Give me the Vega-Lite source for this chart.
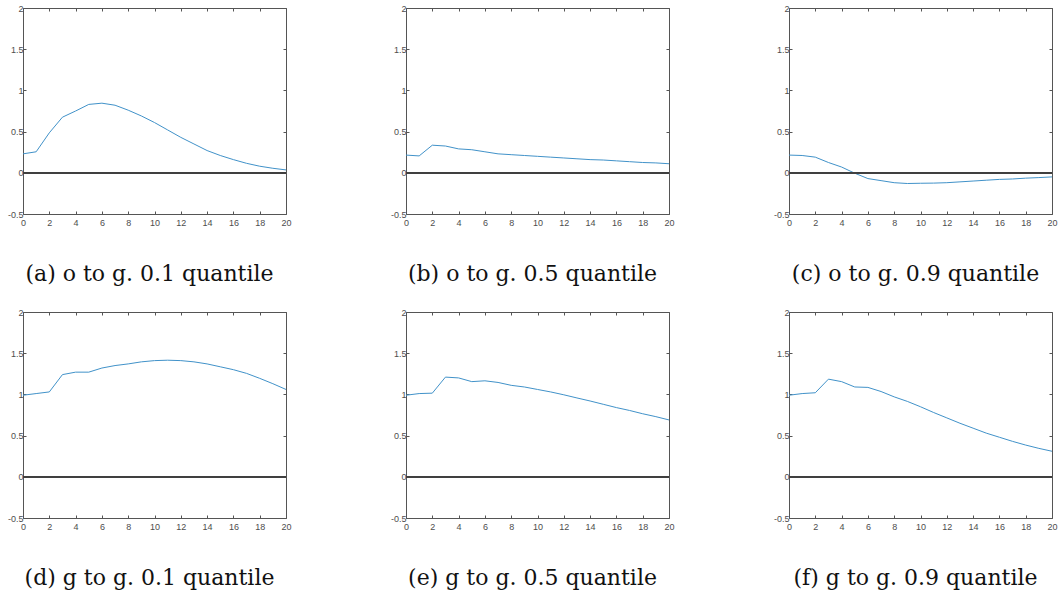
{
  "$schema": "https://vega.github.io/schema/vega-lite/v6.json",
  "background": "white",
  "autosize": {"type": "pad"},
  "padding": {"left": 7, "top": 4, "right": 5, "bottom": 5},
  "bounds": "flush",
  "spacing": {"row": 98, "column": 120},
  "columns": 3,
  "datasets": {
    "irf": [
      {"panel": "a", "t": 0, "v": 0.23}, {"panel": "a", "t": 1, "v": 0.255}, {"panel": "a", "t": 2, "v": 0.485}, {"panel": "a", "t": 3, "v": 0.675}, {"panel": "a", "t": 4, "v": 0.75}, {"panel": "a", "t": 5, "v": 0.83}, {"panel": "a", "t": 6, "v": 0.845}, {"panel": "a", "t": 7, "v": 0.82}, {"panel": "a", "t": 8, "v": 0.76}, {"panel": "a", "t": 9, "v": 0.69}, {"panel": "a", "t": 10, "v": 0.61}, {"panel": "a", "t": 11, "v": 0.52}, {"panel": "a", "t": 12, "v": 0.43}, {"panel": "a", "t": 13, "v": 0.35}, {"panel": "a", "t": 14, "v": 0.27}, {"panel": "a", "t": 15, "v": 0.21}, {"panel": "a", "t": 16, "v": 0.16}, {"panel": "a", "t": 17, "v": 0.115}, {"panel": "a", "t": 18, "v": 0.08}, {"panel": "a", "t": 19, "v": 0.055}, {"panel": "a", "t": 20, "v": 0.035},
      {"panel": "b", "t": 0, "v": 0.215}, {"panel": "b", "t": 1, "v": 0.205}, {"panel": "b", "t": 2, "v": 0.335}, {"panel": "b", "t": 3, "v": 0.325}, {"panel": "b", "t": 4, "v": 0.29}, {"panel": "b", "t": 5, "v": 0.28}, {"panel": "b", "t": 6, "v": 0.255}, {"panel": "b", "t": 7, "v": 0.23}, {"panel": "b", "t": 8, "v": 0.22}, {"panel": "b", "t": 9, "v": 0.21}, {"panel": "b", "t": 10, "v": 0.2}, {"panel": "b", "t": 11, "v": 0.19}, {"panel": "b", "t": 12, "v": 0.18}, {"panel": "b", "t": 13, "v": 0.17}, {"panel": "b", "t": 14, "v": 0.16}, {"panel": "b", "t": 15, "v": 0.155}, {"panel": "b", "t": 16, "v": 0.145}, {"panel": "b", "t": 17, "v": 0.135}, {"panel": "b", "t": 18, "v": 0.125}, {"panel": "b", "t": 19, "v": 0.12}, {"panel": "b", "t": 20, "v": 0.11},
      {"panel": "c", "t": 0, "v": 0.215}, {"panel": "c", "t": 1, "v": 0.21}, {"panel": "c", "t": 2, "v": 0.19}, {"panel": "c", "t": 3, "v": 0.125}, {"panel": "c", "t": 4, "v": 0.07}, {"panel": "c", "t": 5, "v": -0.005}, {"panel": "c", "t": 6, "v": -0.07}, {"panel": "c", "t": 7, "v": -0.095}, {"panel": "c", "t": 8, "v": -0.12}, {"panel": "c", "t": 9, "v": -0.13}, {"panel": "c", "t": 10, "v": -0.127}, {"panel": "c", "t": 11, "v": -0.125}, {"panel": "c", "t": 12, "v": -0.12}, {"panel": "c", "t": 13, "v": -0.11}, {"panel": "c", "t": 14, "v": -0.1}, {"panel": "c", "t": 15, "v": -0.09}, {"panel": "c", "t": 16, "v": -0.08}, {"panel": "c", "t": 17, "v": -0.075}, {"panel": "c", "t": 18, "v": -0.065}, {"panel": "c", "t": 19, "v": -0.058}, {"panel": "c", "t": 20, "v": -0.05},
      {"panel": "d", "t": 0, "v": 0.99}, {"panel": "d", "t": 1, "v": 1.01}, {"panel": "d", "t": 2, "v": 1.03}, {"panel": "d", "t": 3, "v": 1.24}, {"panel": "d", "t": 4, "v": 1.27}, {"panel": "d", "t": 5, "v": 1.27}, {"panel": "d", "t": 6, "v": 1.32}, {"panel": "d", "t": 7, "v": 1.35}, {"panel": "d", "t": 8, "v": 1.37}, {"panel": "d", "t": 9, "v": 1.395}, {"panel": "d", "t": 10, "v": 1.41}, {"panel": "d", "t": 11, "v": 1.415}, {"panel": "d", "t": 12, "v": 1.41}, {"panel": "d", "t": 13, "v": 1.395}, {"panel": "d", "t": 14, "v": 1.37}, {"panel": "d", "t": 15, "v": 1.335}, {"panel": "d", "t": 16, "v": 1.3}, {"panel": "d", "t": 17, "v": 1.255}, {"panel": "d", "t": 18, "v": 1.195}, {"panel": "d", "t": 19, "v": 1.13}, {"panel": "d", "t": 20, "v": 1.06},
      {"panel": "e", "t": 0, "v": 0.99}, {"panel": "e", "t": 1, "v": 1.01}, {"panel": "e", "t": 2, "v": 1.015}, {"panel": "e", "t": 3, "v": 1.21}, {"panel": "e", "t": 4, "v": 1.2}, {"panel": "e", "t": 5, "v": 1.155}, {"panel": "e", "t": 6, "v": 1.165}, {"panel": "e", "t": 7, "v": 1.145}, {"panel": "e", "t": 8, "v": 1.11}, {"panel": "e", "t": 9, "v": 1.09}, {"panel": "e", "t": 10, "v": 1.06}, {"panel": "e", "t": 11, "v": 1.03}, {"panel": "e", "t": 12, "v": 0.995}, {"panel": "e", "t": 13, "v": 0.957}, {"panel": "e", "t": 14, "v": 0.92}, {"panel": "e", "t": 15, "v": 0.88}, {"panel": "e", "t": 16, "v": 0.84}, {"panel": "e", "t": 17, "v": 0.805}, {"panel": "e", "t": 18, "v": 0.765}, {"panel": "e", "t": 19, "v": 0.73}, {"panel": "e", "t": 20, "v": 0.69},
      {"panel": "f", "t": 0, "v": 0.99}, {"panel": "f", "t": 1, "v": 1.01}, {"panel": "f", "t": 2, "v": 1.02}, {"panel": "f", "t": 3, "v": 1.185}, {"panel": "f", "t": 4, "v": 1.155}, {"panel": "f", "t": 5, "v": 1.09}, {"panel": "f", "t": 6, "v": 1.085}, {"panel": "f", "t": 7, "v": 1.035}, {"panel": "f", "t": 8, "v": 0.97}, {"panel": "f", "t": 9, "v": 0.915}, {"panel": "f", "t": 10, "v": 0.85}, {"panel": "f", "t": 11, "v": 0.78}, {"panel": "f", "t": 12, "v": 0.715}, {"panel": "f", "t": 13, "v": 0.65}, {"panel": "f", "t": 14, "v": 0.59}, {"panel": "f", "t": 15, "v": 0.53}, {"panel": "f", "t": 16, "v": 0.48}, {"panel": "f", "t": 17, "v": 0.43}, {"panel": "f", "t": 18, "v": 0.385}, {"panel": "f", "t": 19, "v": 0.345}, {"panel": "f", "t": 20, "v": 0.31}
    ]
  },
  "concat": [
    {"title": {"text": "(a) o to g. 0.1 quantile"}, "data": {"name": "irf"}, "transform": [{"filter": "datum.panel == 'a'"}], "width": 263, "height": 206,
     "layer": [
       {"mark": {"type": "line", "color": "#4192c9", "strokeWidth": 1}, "encoding": {"x": {"field": "t", "type": "quantitative", "scale": {"domain": [0, 20], "nice": false}, "axis": {"orient": "bottom", "values": [0,2,4,6,8,10,12,14,16,18,20]}}, "y": {"field": "v", "type": "quantitative", "scale": {"domain": [-0.5, 2], "nice": false, "zero": false}, "axis": {"orient": "left", "values": [-0.5,0,0.5,1,1.5,2]}}}},
       {"mark": {"type": "line", "strokeOpacity": 0}, "encoding": {"x": {"field": "t", "type": "quantitative", "axis": {"orient": "top", "labels": false, "values": [0,2,4,6,8,10,12,14,16,18,20]}}, "y": {"field": "v", "type": "quantitative", "axis": {"orient": "right", "labels": false, "values": [-0.5,0,0.5,1,1.5,2]}}}},
       {"mark": {"type": "rule", "color": "#404040", "strokeWidth": 0.9}, "encoding": {"y": {"datum": 0, "type": "quantitative", "axis": null}}}
     ],
     "resolve": {"axis": {"x": "independent", "y": "independent"}}},
    {"title": {"text": "(b) o to g. 0.5 quantile"}, "data": {"name": "irf"}, "transform": [{"filter": "datum.panel == 'b'"}], "width": 263, "height": 206,
     "layer": [
       {"mark": {"type": "line", "color": "#4192c9", "strokeWidth": 1}, "encoding": {"x": {"field": "t", "type": "quantitative", "scale": {"domain": [0, 20], "nice": false}, "axis": {"orient": "bottom", "values": [0,2,4,6,8,10,12,14,16,18,20]}}, "y": {"field": "v", "type": "quantitative", "scale": {"domain": [-0.5, 2], "nice": false, "zero": false}, "axis": {"orient": "left", "values": [-0.5,0,0.5,1,1.5,2]}}}},
       {"mark": {"type": "line", "strokeOpacity": 0}, "encoding": {"x": {"field": "t", "type": "quantitative", "axis": {"orient": "top", "labels": false, "values": [0,2,4,6,8,10,12,14,16,18,20]}}, "y": {"field": "v", "type": "quantitative", "axis": {"orient": "right", "labels": false, "values": [-0.5,0,0.5,1,1.5,2]}}}},
       {"mark": {"type": "rule", "color": "#404040", "strokeWidth": 0.9}, "encoding": {"y": {"datum": 0, "type": "quantitative", "axis": null}}}
     ],
     "resolve": {"axis": {"x": "independent", "y": "independent"}}},
    {"title": {"text": "(c) o to g. 0.9 quantile"}, "data": {"name": "irf"}, "transform": [{"filter": "datum.panel == 'c'"}], "width": 263, "height": 206,
     "layer": [
       {"mark": {"type": "line", "color": "#4192c9", "strokeWidth": 1}, "encoding": {"x": {"field": "t", "type": "quantitative", "scale": {"domain": [0, 20], "nice": false}, "axis": {"orient": "bottom", "values": [0,2,4,6,8,10,12,14,16,18,20]}}, "y": {"field": "v", "type": "quantitative", "scale": {"domain": [-0.5, 2], "nice": false, "zero": false}, "axis": {"orient": "left", "values": [-0.5,0,0.5,1,1.5,2]}}}},
       {"mark": {"type": "line", "strokeOpacity": 0}, "encoding": {"x": {"field": "t", "type": "quantitative", "axis": {"orient": "top", "labels": false, "values": [0,2,4,6,8,10,12,14,16,18,20]}}, "y": {"field": "v", "type": "quantitative", "axis": {"orient": "right", "labels": false, "values": [-0.5,0,0.5,1,1.5,2]}}}},
       {"mark": {"type": "rule", "color": "#404040", "strokeWidth": 0.9}, "encoding": {"y": {"datum": 0, "type": "quantitative", "axis": null}}}
     ],
     "resolve": {"axis": {"x": "independent", "y": "independent"}}},
    {"title": {"text": "(d) g to g. 0.1 quantile"}, "data": {"name": "irf"}, "transform": [{"filter": "datum.panel == 'd'"}], "width": 263, "height": 206,
     "layer": [
       {"mark": {"type": "line", "color": "#4192c9", "strokeWidth": 1}, "encoding": {"x": {"field": "t", "type": "quantitative", "scale": {"domain": [0, 20], "nice": false}, "axis": {"orient": "bottom", "values": [0,2,4,6,8,10,12,14,16,18,20]}}, "y": {"field": "v", "type": "quantitative", "scale": {"domain": [-0.5, 2], "nice": false, "zero": false}, "axis": {"orient": "left", "values": [-0.5,0,0.5,1,1.5,2]}}}},
       {"mark": {"type": "line", "strokeOpacity": 0}, "encoding": {"x": {"field": "t", "type": "quantitative", "axis": {"orient": "top", "labels": false, "values": [0,2,4,6,8,10,12,14,16,18,20]}}, "y": {"field": "v", "type": "quantitative", "axis": {"orient": "right", "labels": false, "values": [-0.5,0,0.5,1,1.5,2]}}}},
       {"mark": {"type": "rule", "color": "#404040", "strokeWidth": 0.9}, "encoding": {"y": {"datum": 0, "type": "quantitative", "axis": null}}}
     ],
     "resolve": {"axis": {"x": "independent", "y": "independent"}}},
    {"title": {"text": "(e) g to g. 0.5 quantile"}, "data": {"name": "irf"}, "transform": [{"filter": "datum.panel == 'e'"}], "width": 263, "height": 206,
     "layer": [
       {"mark": {"type": "line", "color": "#4192c9", "strokeWidth": 1}, "encoding": {"x": {"field": "t", "type": "quantitative", "scale": {"domain": [0, 20], "nice": false}, "axis": {"orient": "bottom", "values": [0,2,4,6,8,10,12,14,16,18,20]}}, "y": {"field": "v", "type": "quantitative", "scale": {"domain": [-0.5, 2], "nice": false, "zero": false}, "axis": {"orient": "left", "values": [-0.5,0,0.5,1,1.5,2]}}}},
       {"mark": {"type": "line", "strokeOpacity": 0}, "encoding": {"x": {"field": "t", "type": "quantitative", "axis": {"orient": "top", "labels": false, "values": [0,2,4,6,8,10,12,14,16,18,20]}}, "y": {"field": "v", "type": "quantitative", "axis": {"orient": "right", "labels": false, "values": [-0.5,0,0.5,1,1.5,2]}}}},
       {"mark": {"type": "rule", "color": "#404040", "strokeWidth": 0.9}, "encoding": {"y": {"datum": 0, "type": "quantitative", "axis": null}}}
     ],
     "resolve": {"axis": {"x": "independent", "y": "independent"}}},
    {"title": {"text": "(f) g to g. 0.9 quantile"}, "data": {"name": "irf"}, "transform": [{"filter": "datum.panel == 'f'"}], "width": 263, "height": 206,
     "layer": [
       {"mark": {"type": "line", "color": "#4192c9", "strokeWidth": 1}, "encoding": {"x": {"field": "t", "type": "quantitative", "scale": {"domain": [0, 20], "nice": false}, "axis": {"orient": "bottom", "values": [0,2,4,6,8,10,12,14,16,18,20]}}, "y": {"field": "v", "type": "quantitative", "scale": {"domain": [-0.5, 2], "nice": false, "zero": false}, "axis": {"orient": "left", "values": [-0.5,0,0.5,1,1.5,2]}}}},
       {"mark": {"type": "line", "strokeOpacity": 0}, "encoding": {"x": {"field": "t", "type": "quantitative", "axis": {"orient": "top", "labels": false, "values": [0,2,4,6,8,10,12,14,16,18,20]}}, "y": {"field": "v", "type": "quantitative", "axis": {"orient": "right", "labels": false, "values": [-0.5,0,0.5,1,1.5,2]}}}},
       {"mark": {"type": "rule", "color": "#404040", "strokeWidth": 0.9}, "encoding": {"y": {"datum": 0, "type": "quantitative", "axis": null}}}
     ],
     "resolve": {"axis": {"x": "independent", "y": "independent"}}}
  ],
  "config": {
    "view": {"stroke": null},
    "title": {"orient": "bottom", "font": "DejaVu Serif", "fontSize": 22, "fontWeight": "normal", "color": "#111111", "frame": "group", "anchor": "middle", "dx": -5, "offset": 37},
    "axis": {"title": null, "grid": false, "domainColor": "#555555", "domainWidth": 1, "tickColor": "#555555", "tickSize": -3, "labelColor": "#4d4d4d", "labelFont": "Liberation Sans", "labelFontSize": 9, "labelFlush": false, "labelOverlap": false, "labelPadding": 7, "labelBound": false, "labelExpr": "'' + datum.value"},
    "axisY": {"labelPadding": 3}
  }
}
